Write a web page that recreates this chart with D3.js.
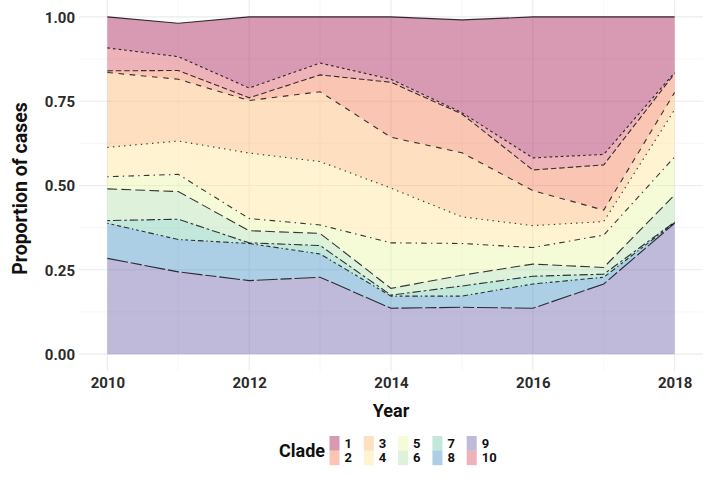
<!DOCTYPE html>
<html><head><meta charset="utf-8">
<script src="https://cdn.jsdelivr.net/npm/d3@7"></script>
<style>
html,body{margin:0;padding:0;background:#fff;}
text{font-family:Roboto, "Liberation Sans", sans-serif;}
</style></head>
<body><svg id="chart" width="716" height="478"></svg>
<script>
const years = [2010, 2011, 2012, 2013, 2014, 2015, 2016, 2017, 2018];
const clades = ["1","10","2","3","4","5","6","7","8","9"];
const legendOrder = ["1","2","3","4","5","6","7","8","9","10"];
const clade1  = [0.092, 0.099, 0.211, 0.137, 0.185, 0.275, 0.418, 0.408, 0.165];
const clade10 = [0.068, 0.041, 0.029, 0.035, 0.009, 0.004, 0.036, 0.031, 0.003];
const clade2  = [0.005, 0.026, 0.008, 0.050, 0.163, 0.115, 0.061, 0.134, 0.056];
const clade3  = [0.222, 0.183, 0.156, 0.207, 0.151, 0.190, 0.104, 0.034, 0.051];
const clade4  = [0.087, 0.099, 0.194, 0.188, 0.162, 0.079, 0.065, 0.040, 0.140];
const clade5  = [0.036, 0.051, 0.036, 0.025, 0.135, 0.094, 0.049, 0.096, 0.113];
const clade6  = [0.094, 0.082, 0.036, 0.036, 0.020, 0.032, 0.036, 0.020, 0.080];
const clade7  = [0.008, 0.060, 0.002, 0.025, 0.003, 0.030, 0.023, 0.009, 0.002];
const clade8  = [0.104, 0.096, 0.110, 0.069, 0.036, 0.033, 0.072, 0.020, 0.002];
const clade9  = [0.284, 0.244, 0.218, 0.228, 0.136, 0.139, 0.136, 0.208, 0.388];
const yTicks = [0, 0.25, 0.5, 0.75, 1];
const yTickLabels = ["0.00","0.25","0.50","0.75","1.00"];
const xTicks = [2010, 2012, 2014, 2016, 2018];

const values = {"1":clade1,"10":clade10,"2":clade2,"3":clade3,"4":clade4,"5":clade5,"6":clade6,"7":clade7,"8":clade8,"9":clade9};
const colors = {"1":"#9E0142","10":"#D53E4F","2":"#F46D43","3":"#FDAE61","4":"#FEE08B","5":"#E6F598","6":"#ABDDA4","7":"#66C2A5","8":"#3288BD","9":"#5E4FA2"};
const u = 1.4;
const dashes = {"1":null,"10":[2,2],"2":[4,2],"3":[4,4],"4":[1,3],"5":[1,3,4,3],"6":[7,3],"7":[2,2,6,2],"8":[1,2,2,2,3,2,4,2],"9":[15,2,8,2]};

const rows = years.map((y,i)=>{const r={year:y}; clades.forEach(c=>r[c]=values[c][i]); return r;});
const stackKeys = clades.slice().reverse(); // bottom: 9 ... top: 1
const series = d3.stack().keys(stackKeys)(rows);

const svg = d3.select("#chart");
const pl = 79, pr = 703, pt = 0, pb = 371;
const x = d3.scaleLinear().domain([2009.6, 2018.4]).range([pl, pr]);
const y = d3.scaleLinear().domain([-0.05, 1.05]).range([pb, pt]);

const g = svg.append("g");
const minorY = [0.125, 0.375, 0.625, 0.875];
const minorX = [2011, 2013, 2015, 2017];
g.selectAll(".gmy").data(minorY).enter().append("line")
 .attr("x1",pl).attr("x2",pr).attr("y1",d=>y(d)).attr("y2",d=>y(d))
 .attr("stroke","#f2f2f2").attr("stroke-width",0.6);
g.selectAll(".gmx").data(minorX).enter().append("line")
 .attr("y1",pt).attr("y2",pb).attr("x1",d=>x(d)).attr("x2",d=>x(d))
 .attr("stroke","#f2f2f2").attr("stroke-width",0.6);
g.selectAll(".gy").data(yTicks).enter().append("line")
 .attr("x1",pl).attr("x2",pr).attr("y1",d=>y(d)).attr("y2",d=>y(d))
 .attr("stroke","#ebebeb").attr("stroke-width",1.1);
g.selectAll(".gx").data(xTicks).enter().append("line")
 .attr("y1",pt).attr("y2",pb).attr("x1",d=>x(d)).attr("x2",d=>x(d))
 .attr("stroke","#ebebeb").attr("stroke-width",1.1);

const area = d3.area().x(d=>x(d.data.year)).y0(d=>y(d[0])).y1(d=>y(d[1]));
const line = d3.line().x(d=>x(d.data.year)).y(d=>y(d[1]));
const ordered = series.slice().reverse();
ordered.forEach(s=>{
  g.append("path").attr("d",area(s)).attr("fill",colors[s.key]).attr("fill-opacity",0.4);
});
ordered.forEach(s=>{
  const p = g.append("path").attr("d",line(s)).attr("fill","none")
   .attr("stroke","#000").attr("stroke-opacity",0.78).attr("stroke-width",1.1);
  if (dashes[s.key]) p.attr("stroke-dasharray", dashes[s.key].map(v=>v*u).join(","));
});

const ya = svg.append("g").attr("transform",`translate(${pl},0)`)
 .call(d3.axisLeft(y).tickValues(yTicks).tickFormat((d,i)=>yTickLabels[i]).tickSize(0).tickPadding(4));
ya.select(".domain").remove();
ya.selectAll("text").attr("font-size",15).attr("font-weight","bold").attr("fill","#2b2b2b").attr("dy","0.36em");
const xa = svg.append("g").attr("transform",`translate(0,${pb})`)
 .call(d3.axisBottom(x).tickValues(xTicks).tickFormat(d3.format("d")).tickSize(0).tickPadding(6));
xa.select(".domain").remove();
xa.selectAll("text").attr("font-size",15).attr("font-weight","bold").attr("fill","#2b2b2b");

svg.append("text").attr("x",x(2014)).attr("y",417).attr("text-anchor","middle")
 .attr("font-size",18).attr("font-weight","bold").attr("fill","#111").text("Year");
svg.append("text").attr("transform",`translate(27,${y(0.5)+3}) rotate(-90)`).attr("text-anchor","middle")
 .attr("font-size",19.5).attr("font-weight","bold").attr("fill","#111").text("Proportion of cases");

const lg = svg.append("g");
lg.append("text").attr("x",279).attr("y",457).attr("font-size",18).attr("font-weight","bold").attr("fill","#111").text("Clade");
legendOrder.forEach((c,i)=>{
  const col = Math.floor(i/2), row = i%2;
  const kx = 329.5 + col*34.3, ky = 436 + row*14.6;
  lg.append("rect").attr("x",kx).attr("y",ky).attr("width",10).attr("height",14.6)
    .attr("fill",colors[c]).attr("fill-opacity",0.4);
  lg.append("text").attr("x",kx+15).attr("y",ky+11.8).attr("font-size",13).attr("font-weight","bold")
    .attr("fill","#111").text(c);
});
</script></body></html>
